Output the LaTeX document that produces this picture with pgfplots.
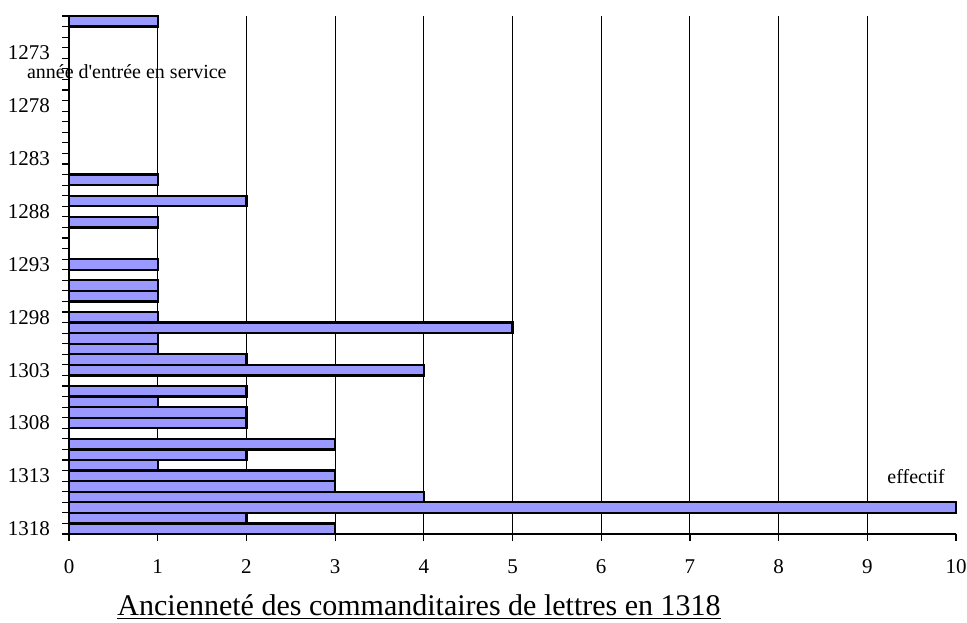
\documentclass[border=0pt]{standalone}
\usepackage{pgfplots}
\pgfplotsset{compat=1.18}
\usepackage{pgfplotstable}
\usepackage{fontspec}
\setmainfont{Liberation Serif}
\definecolor{barfill}{RGB}{153,153,255}

% annee d'entree en service / effectif
\pgfplotstableread{
annee effectif
1270 1
1285 1
1287 2
1289 1
1293 1
1295 1
1296 1
1298 1
1299 5
1300 1
1301 1
1302 2
1303 4
1305 2
1306 1
1307 2
1308 2
1310 3
1311 2
1312 1
1313 3
1314 3
1315 4
1316 10
1317 2
1318 3
}\donnees

\begin{document}
\begin{tikzpicture}
\useasboundingbox (0,0) rectangle (483.5pt,311pt);
\begin{axis}[
    at={(34.5pt,44pt)}, anchor=south west,
    scale only axis, width=443.5pt, height=259pt,
    xbar, bar width=1, clip=false,
    xmin=0, xmax=10, ymin=1269.5, ymax=1318.5, y dir=reverse,
    axis lines=left, axis line style={-, line width=0.6pt},
    tick align=outside, major tick length=3.5pt,
    tick style={black, line width=0.6pt},
    xtick={0,...,10},
    extra x ticks={1,...,9}, extra x tick style={grid=major, xticklabel={}},
    grid style={black, line width=0.5pt},
    ytick={1269.5,1270.5,...,1318.5}, yticklabels={},
    extra y ticks={1273,1278,1283,1288,1293,1298,1303,1308,1313,1318},
    extra y tick labels={1273,1278,1283,1288,1293,1298,1303,1308,1313,1318},
    extra y tick style={tick style={draw=none}},
    ticklabel style={font=\fontsize{10.5}{12}\selectfont},
    xticklabel style={text height=7pt, text depth=0pt, yshift=-5.5pt},
    yticklabel style={xshift=-2.5pt},
    /pgf/number format/assume math mode=true,
    /pgf/number format/1000 sep={},
]
\addplot[fill=barfill, draw=black, line width=1.1pt] table[x=effectif, y=annee] {\donnees};
\end{axis}
\node[anchor=base west, font=\fontsize{10}{12}\selectfont, inner sep=0pt] at (13.3pt,271.5pt) {année d\textquotesingle entrée en service};
\node[anchor=base west, font=\fontsize{10}{12}\selectfont, inner sep=0pt] at (443.5pt,69.5pt) {effectif};
\node[anchor=base, font=\fontsize{15}{18}\selectfont, inner sep=0pt] at (209.5pt,3.5pt) {\underline{Ancienneté des commanditaires de lettres en 1318}};
\end{tikzpicture}
\end{document}
